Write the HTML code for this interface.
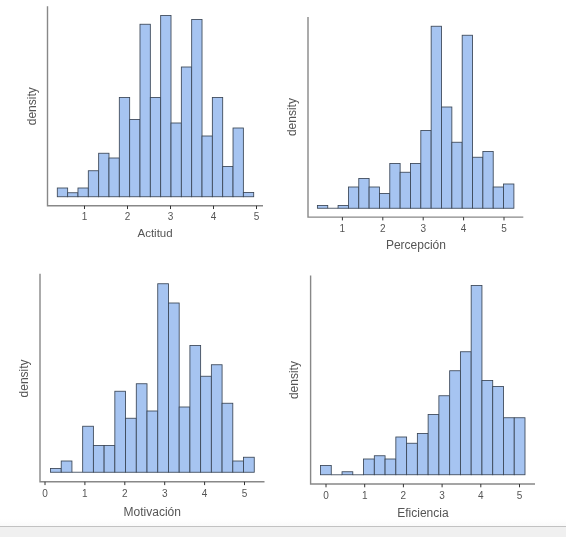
<!DOCTYPE html>
<html><head><meta charset="utf-8"><style>
html,body{margin:0;padding:0;background:#fff;}
body{width:566px;height:537px;overflow:hidden;position:relative;}
svg{position:absolute;left:0;top:0;will-change:transform;}
.tk{font-family:"Liberation Sans",sans-serif;font-size:10px;fill:#555555;text-anchor:middle;}
.lb{font-family:"Liberation Sans",sans-serif;font-size:12px;fill:#555555;text-anchor:middle;}
.foot{position:absolute;left:0;top:526px;width:566px;height:11px;background:#f0f0f0;border-top:1px solid #c2c2c2;box-sizing:border-box;}
</style></head><body>
<svg width="566" height="537" viewBox="0 0 566 537">
<g fill="#a6c4f1" stroke="#3a4656" stroke-width="0.85">
<rect x="57.30" y="188.00" width="10.34" height="8.75"/>
<rect x="67.64" y="192.75" width="10.34" height="4.00"/>
<rect x="77.97" y="188.00" width="10.34" height="8.75"/>
<rect x="88.31" y="170.75" width="10.34" height="26.00"/>
<rect x="98.65" y="153.25" width="10.34" height="43.50"/>
<rect x="108.98" y="158.00" width="10.34" height="38.75"/>
<rect x="119.32" y="97.50" width="10.34" height="99.25"/>
<rect x="129.66" y="119.50" width="10.34" height="77.25"/>
<rect x="139.99" y="24.25" width="10.34" height="172.50"/>
<rect x="150.33" y="97.50" width="10.34" height="99.25"/>
<rect x="160.67" y="15.50" width="10.34" height="181.25"/>
<rect x="171.01" y="123.00" width="10.34" height="73.75"/>
<rect x="181.34" y="67.00" width="10.34" height="129.75"/>
<rect x="191.68" y="19.50" width="10.34" height="177.25"/>
<rect x="202.02" y="136.00" width="10.34" height="60.75"/>
<rect x="212.35" y="97.50" width="10.34" height="99.25"/>
<rect x="222.69" y="166.50" width="10.34" height="30.25"/>
<rect x="233.03" y="128.00" width="10.34" height="68.75"/>
<rect x="243.36" y="192.50" width="10.34" height="4.25"/>
</g>
<path d="M47.5 6.2 V205.75 H263" fill="none" stroke="#888888" stroke-width="1.4"/>
<path d="M84.5 205.75 v3.3 M127.5 205.75 v3.3 M170.5 205.75 v3.3 M213.5 205.75 v3.3 M256.5 205.75 v3.3 " stroke="#333" stroke-width="1"/>
<text x="84.5" y="220.3" class="tk">1</text>
<text x="127.5" y="220.3" class="tk">2</text>
<text x="170.5" y="220.3" class="tk">3</text>
<text x="213.5" y="220.3" class="tk">4</text>
<text x="256.5" y="220.3" class="tk">5</text>
<text x="155.1" y="237.2" class="lb" style="font-size:11.5px">Actitud</text>
<text transform="translate(36 106.25) rotate(-90)" class="lb">density</text>
<g fill="#a6c4f1" stroke="#3a4656" stroke-width="0.85">
<rect x="317.40" y="205.50" width="10.34" height="2.75"/>
<path d="M327.74 208.25 h10.34"/>
<rect x="338.08" y="205.50" width="10.34" height="2.75"/>
<rect x="348.43" y="187.00" width="10.34" height="21.25"/>
<rect x="358.77" y="178.50" width="10.34" height="29.75"/>
<rect x="369.11" y="187.00" width="10.34" height="21.25"/>
<rect x="379.45" y="193.50" width="10.34" height="14.75"/>
<rect x="389.79" y="163.50" width="10.34" height="44.75"/>
<rect x="400.14" y="172.25" width="10.34" height="36.00"/>
<rect x="410.48" y="163.50" width="10.34" height="44.75"/>
<rect x="420.82" y="130.50" width="10.34" height="77.75"/>
<rect x="431.16" y="26.25" width="10.34" height="182.00"/>
<rect x="441.51" y="107.00" width="10.34" height="101.25"/>
<rect x="451.85" y="142.25" width="10.34" height="66.00"/>
<rect x="462.19" y="35.25" width="10.34" height="173.00"/>
<rect x="472.53" y="157.25" width="10.34" height="51.00"/>
<rect x="482.87" y="151.50" width="10.34" height="56.75"/>
<rect x="493.22" y="187.00" width="10.34" height="21.25"/>
<rect x="503.56" y="184.00" width="10.34" height="24.25"/>
</g>
<path d="M308 17.0 V217.1 H523.3" fill="none" stroke="#888888" stroke-width="1.4"/>
<path d="M342.4 217.1 v3.3 M382.8 217.1 v3.3 M423.2 217.1 v3.3 M463.6 217.1 v3.3 M504.0 217.1 v3.3 " stroke="#333" stroke-width="1"/>
<text x="342.4" y="232.0" class="tk">1</text>
<text x="382.8" y="232.0" class="tk">2</text>
<text x="423.2" y="232.0" class="tk">3</text>
<text x="463.6" y="232.0" class="tk">4</text>
<text x="504.0" y="232.0" class="tk">5</text>
<text x="415.9" y="249.0" class="lb" style="font-size:12px">Percepción</text>
<text transform="translate(296 117.1) rotate(-90)" class="lb">density</text>
<g fill="#a6c4f1" stroke="#3a4656" stroke-width="0.85">
<rect x="50.50" y="468.50" width="10.72" height="3.75"/>
<rect x="61.22" y="461.00" width="10.72" height="11.25"/>
<path d="M71.95 472.25 h10.72"/>
<rect x="82.67" y="426.25" width="10.72" height="46.00"/>
<rect x="93.39" y="445.50" width="10.72" height="26.75"/>
<rect x="104.12" y="445.50" width="10.72" height="26.75"/>
<rect x="114.84" y="391.25" width="10.72" height="81.00"/>
<rect x="125.57" y="418.25" width="10.72" height="54.00"/>
<rect x="136.29" y="383.75" width="10.72" height="88.50"/>
<rect x="147.01" y="411.00" width="10.72" height="61.25"/>
<rect x="157.74" y="283.75" width="10.72" height="188.50"/>
<rect x="168.46" y="303.00" width="10.72" height="169.25"/>
<rect x="179.18" y="407.00" width="10.72" height="65.25"/>
<rect x="189.91" y="345.50" width="10.72" height="126.75"/>
<rect x="200.63" y="376.25" width="10.72" height="96.00"/>
<rect x="211.36" y="364.75" width="10.72" height="107.50"/>
<rect x="222.08" y="403.25" width="10.72" height="69.00"/>
<rect x="232.80" y="461.00" width="10.72" height="11.25"/>
<rect x="243.53" y="457.25" width="10.72" height="15.00"/>
</g>
<path d="M40 273.8 V481.8 H264.5" fill="none" stroke="#888888" stroke-width="1.4"/>
<path d="M45 481.8 v3.3 M84.9 481.8 v3.3 M124.8 481.8 v3.3 M164.7 481.8 v3.3 M204.6 481.8 v3.3 M244.5 481.8 v3.3 " stroke="#333" stroke-width="1"/>
<text x="45" y="497.0" class="tk">0</text>
<text x="84.9" y="497.0" class="tk">1</text>
<text x="124.8" y="497.0" class="tk">2</text>
<text x="164.7" y="497.0" class="tk">3</text>
<text x="204.6" y="497.0" class="tk">4</text>
<text x="244.5" y="497.0" class="tk">5</text>
<text x="152.25" y="515.5" class="lb" style="font-size:12px">Motivación</text>
<text transform="translate(28 378.4) rotate(-90)" class="lb">density</text>
<g fill="#a6c4f1" stroke="#3a4656" stroke-width="0.85">
<rect x="320.50" y="465.50" width="10.76" height="9.25"/>
<path d="M331.26 474.75 h10.76"/>
<rect x="342.03" y="471.75" width="10.76" height="3.00"/>
<path d="M352.79 474.75 h10.76"/>
<rect x="363.55" y="459.00" width="10.76" height="15.75"/>
<rect x="374.32" y="455.75" width="10.76" height="19.00"/>
<rect x="385.08" y="459.00" width="10.76" height="15.75"/>
<rect x="395.84" y="437.00" width="10.76" height="37.75"/>
<rect x="406.61" y="443.25" width="10.76" height="31.50"/>
<rect x="417.37" y="433.50" width="10.76" height="41.25"/>
<rect x="428.13" y="414.50" width="10.76" height="60.25"/>
<rect x="438.89" y="395.75" width="10.76" height="79.00"/>
<rect x="449.66" y="370.75" width="10.76" height="104.00"/>
<rect x="460.42" y="351.75" width="10.76" height="123.00"/>
<rect x="471.18" y="285.50" width="10.76" height="189.25"/>
<rect x="481.95" y="380.50" width="10.76" height="94.25"/>
<rect x="492.71" y="386.50" width="10.76" height="88.25"/>
<rect x="503.47" y="417.75" width="10.76" height="57.00"/>
<rect x="514.24" y="417.75" width="10.76" height="57.00"/>
</g>
<path d="M310.6 275.6 V484.0 H535" fill="none" stroke="#888888" stroke-width="1.4"/>
<path d="M326 484.0 v3.3 M364.7 484.0 v3.3 M403.4 484.0 v3.3 M442.1 484.0 v3.3 M480.8 484.0 v3.3 M519.5 484.0 v3.3 " stroke="#333" stroke-width="1"/>
<text x="326" y="499.0" class="tk">0</text>
<text x="364.7" y="499.0" class="tk">1</text>
<text x="403.4" y="499.0" class="tk">2</text>
<text x="442.1" y="499.0" class="tk">3</text>
<text x="480.8" y="499.0" class="tk">4</text>
<text x="519.5" y="499.0" class="tk">5</text>
<text x="422.9" y="517" class="lb" style="font-size:12px">Eficiencia</text>
<text transform="translate(298 380.1) rotate(-90)" class="lb">density</text>
</svg>
<div class="foot"></div><div style="position:absolute;left:0;top:519px;width:566px;height:7px;background:linear-gradient(#fff,#fafafa)"></div>
</body></html>
